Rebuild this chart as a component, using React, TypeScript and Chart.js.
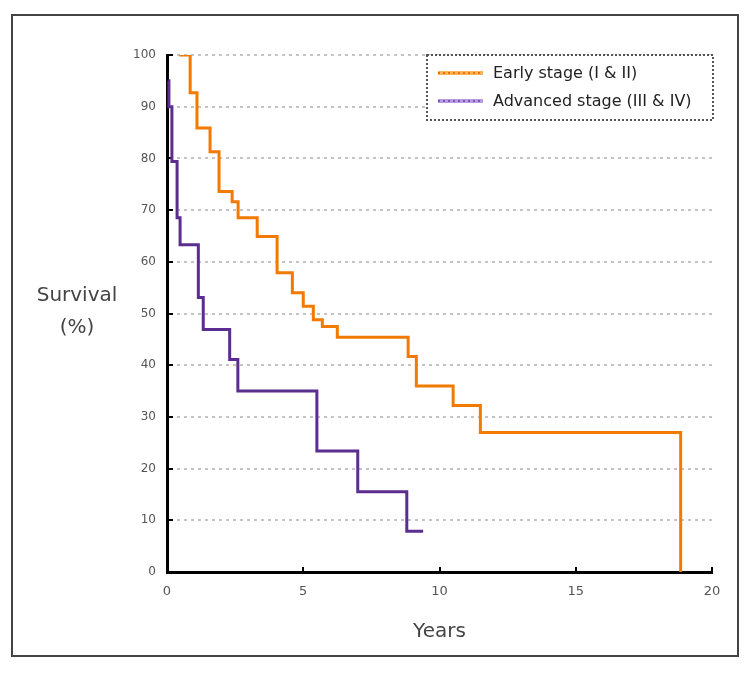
import React, { useEffect, useRef } from "react";
import { Chart, registerables } from "chart.js";

Chart.register(...registerables);

// Early stage (I & II): time of each step (years) and survival (%) after it
const earlyYears = [0.45, 0.85, 1.1, 1.58, 1.91, 2.39, 2.61, 3.31, 4.04, 4.6, 5.0, 5.37, 5.7, 6.25, 8.85, 9.15, 10.5, 11.5, 18.85];
const earlySurvival = [100, 92.7, 85.9, 81.3, 73.6, 71.6, 68.5, 64.9, 57.9, 54, 51.4, 48.8, 47.5, 45.4, 41.7, 36, 32.2, 27, 0];

// Advanced stage (III & IV)
const advancedYears = [0.05, 0.07, 0.18, 0.37, 0.48, 1.15, 1.33, 2.3, 2.6, 5.5, 7.0, 8.8, 9.4];
const advancedSurvival = [95, 90, 79.4, 68.5, 63.3, 53.1, 46.9, 41.1, 35, 23.4, 15.5, 7.9, 7.9];

const seriesLabels = ["Early stage (I & II)", "Advanced stage (III & IV)"];
const yTicks = [0, 10, 20, 30, 40, 50, 60, 70, 80, 90, 100];
const xTicks = [0, 5, 10, 15, 20];
const yTitle = ["Survival", "(%)"];
const xTitle = "Years";

const FONT = "'DejaVu Sans', Arial, sans-serif";
const lineColors = ["#f27a00", "#5b2d8e"];
const swatchLight = ["#ffb45a", "#b89be0"];
const swatchDark = ["#f07000", "#7d55b8"];

const decorPlugin = {
  id: "decor",
  beforeDatasetsDraw(chart: any) {
    const { ctx, chartArea, scales } = chart;
    const ys = scales.y;
    const xs = scales.x;
    ctx.save();
    ctx.strokeStyle = "#c4c4c4";
    ctx.lineWidth = 2;
    ctx.setLineDash([3, 4]);
    yTicks.forEach((v) => {
      if (v === 0) return;
      const y = Math.round(ys.getPixelForValue(v));
      ctx.beginPath();
      ctx.moveTo(chartArea.left + 3, y);
      ctx.lineTo(chartArea.right, y);
      ctx.stroke();
    });
    ctx.setLineDash([]);
    ctx.strokeStyle = "#000";
    ctx.lineWidth = 2;
    yTicks.forEach((v) => {
      const y = Math.round(ys.getPixelForValue(v));
      ctx.beginPath();
      ctx.moveTo(chartArea.left, y);
      ctx.lineTo(chartArea.left + 6, y);
      ctx.stroke();
    });
    xTicks.forEach((v) => {
      const x = Math.round(xs.getPixelForValue(v));
      ctx.beginPath();
      ctx.moveTo(x, chartArea.bottom);
      ctx.lineTo(x, chartArea.bottom - 5);
      ctx.stroke();
    });
    ctx.restore();
  },
  afterDraw(chart: any) {
    const { ctx, chartArea } = chart;
    ctx.save();
    ctx.strokeStyle = "#444";
    ctx.lineWidth = 2;
    ctx.strokeRect(12, 15, 726, 641);

    ctx.fillStyle = "#444";
    ctx.textAlign = "center";
    ctx.textBaseline = "middle";
    ctx.font = "20px " + FONT;
    ctx.fillText(yTitle[0], 77, 296);
    ctx.fillText(yTitle[1], 77, 328);
    ctx.font = "20px " + FONT;
    ctx.fillText(xTitle, (chartArea.left + chartArea.right) / 2, 632);

    const bx = 427, by = 55, bw = 286, bh = 65;
    ctx.fillStyle = "#fff";
    ctx.fillRect(bx, by, bw, bh);
    ctx.strokeStyle = "#555";
    ctx.lineWidth = 2;
    ctx.setLineDash([2, 2]);
    ctx.strokeRect(bx, by, bw, bh);
    ctx.setLineDash([]);
    ctx.textAlign = "left";
    ctx.font = "16px " + FONT;
    const rows = [73, 101];
    chart.data.datasets.forEach((ds: any, i: number) => {
      const y = rows[i];
      ctx.strokeStyle = swatchLight[i];
      ctx.lineWidth = 4;
      ctx.beginPath();
      ctx.moveTo(438, y);
      ctx.lineTo(483, y);
      ctx.stroke();
      ctx.strokeStyle = swatchDark[i];
      ctx.lineWidth = 2;
      ctx.setLineDash([2, 3]);
      ctx.beginPath();
      ctx.moveTo(438, y);
      ctx.lineTo(483, y);
      ctx.stroke();
      ctx.setLineDash([]);
      ctx.fillStyle = "#222";
      ctx.fillText(ds.label, 493, y + 1);
    });
    ctx.restore();
  },
};

export default function App() {
  const ref = useRef<HTMLCanvasElement>(null);
  useEffect(() => {
    if (!ref.current) return;
    const chart = new Chart(ref.current, {
      type: "line",
      data: {
        datasets: [
          {
            label: seriesLabels[0],
            data: earlyYears.map((x, i) => ({ x, y: earlySurvival[i] })),
            borderColor: lineColors[0],
            borderWidth: 3,
            stepped: "before",
            pointRadius: 0,
            fill: false,
          },
          {
            label: seriesLabels[1],
            data: advancedYears.map((x, i) => ({ x, y: advancedSurvival[i] })),
            borderColor: lineColors[1],
            borderWidth: 3,
            stepped: "before",
            pointRadius: 0,
            fill: false,
          },
        ],
      },
      options: {
        responsive: false,
        animation: false,
        devicePixelRatio: 1,
        layout: { padding: { left: 20, top: 55, right: 40, bottom: 0 } },
        plugins: { legend: { display: false }, tooltip: { enabled: false } },
        scales: {
          x: {
            type: "linear",
            min: 0,
            max: 20,
            afterFit: (s: any) => { s.height = 101; },
            afterBuildTicks: (s: any) => { s.ticks = xTicks.map((v) => ({ value: v })); },
            ticks: { padding: 12, color: "#555", font: { size: 13, family: FONT } },
            grid: { display: false, drawTicks: false },
            border: { display: true, color: "#000", width: 3 },
          },
          y: {
            type: "linear",
            min: 0,
            max: 100,
            afterFit: (s: any) => { s.width = 147; },
            afterBuildTicks: (s: any) => { s.ticks = yTicks.map((v) => ({ value: v })); },
            ticks: { padding: 11, color: "#555", font: { size: 12, family: FONT } },
            grid: { display: false, drawTicks: false },
            border: { display: true, color: "#000", width: 3 },
          },
        },
      },
      plugins: [decorPlugin],
    });
    return () => chart.destroy();
  }, []);
  return (
    <div style={{ position: "fixed", left: 0, top: 0, width: 752, height: 673, background: "#fff" }}>
      <canvas ref={ref} width={752} height={673} style={{ display: "block" }} />
    </div>
  );
}
